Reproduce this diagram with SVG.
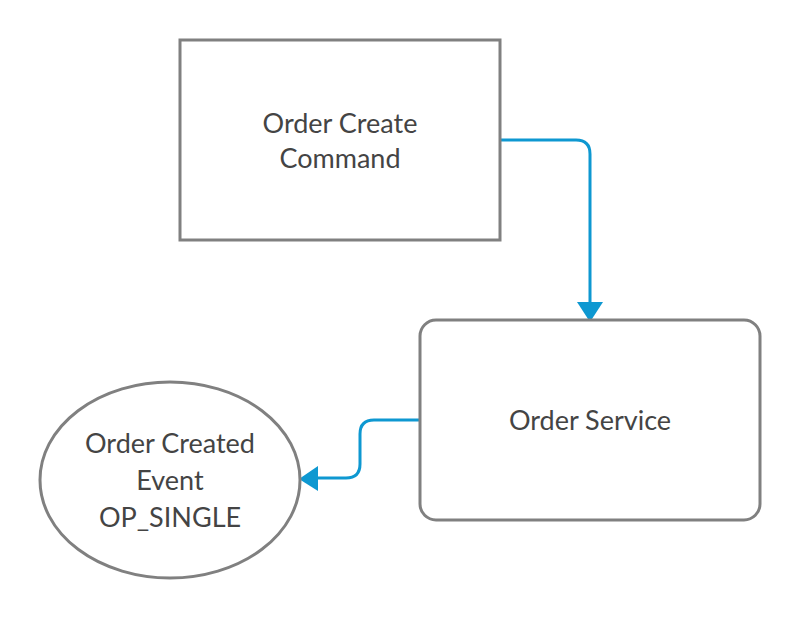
<svg xmlns="http://www.w3.org/2000/svg" width="800" height="620" viewBox="0 0 800 620">
<defs>
<style>
.node{fill:#fff;stroke:#808080;stroke-width:3}
.lbl{font-family:Lato,"Open Sans",sans-serif;font-size:27px;fill:#444;text-anchor:middle}
.conn{fill:none;stroke:#0e98d1;stroke-width:3}
</style>
</defs>
<rect width="800" height="620" fill="#fff"/>
<g id="connectors">
<path class="conn" d="M500,140 H576 Q590,140 590,154 V302"/>
<path d="M577,302 L603,302 L590,322 Z" fill="#0e98d1"/>
<path class="conn" d="M420,420 H374 Q360,420 360,434 V464 Q360,478 346,478 H318"/>
<path d="M318,466 L318,491 L299,479 Z" fill="#0e98d1"/>
</g>
<g id="order-create-command">
<rect class="node" x="180" y="40" width="320" height="200"/>
<text class="lbl" x="340" y="133">Order Create</text>
<text class="lbl" x="340" y="168">Command</text>
</g>
<g id="order-service">
<rect class="node" x="420" y="320" width="340" height="200" rx="16" ry="16"/>
<text class="lbl" x="590" y="430">Order Service</text>
</g>
<g id="order-created-event">
<ellipse class="node" cx="170" cy="480" rx="130" ry="98"/>
<text class="lbl" x="170" y="453">Order Created</text>
<text class="lbl" x="170" y="490">Event</text>
<text class="lbl" x="170" y="527">OP_SINGLE</text>
</g>
</svg>
